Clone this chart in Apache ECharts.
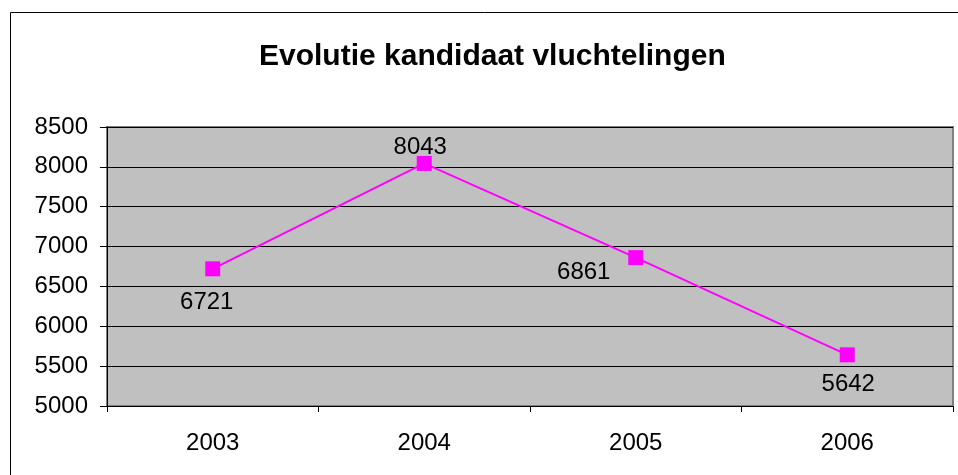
<!DOCTYPE html>
<html>
<head>
<meta charset="utf-8">
<script src="https://cdn.jsdelivr.net/npm/echarts@6/dist/echarts.min.js"></script>
<style>
  html, body { margin: 0; padding: 0; background: #fff; }
  #main { width: 958px; height: 475px; }
</style>
</head>
<body>
<div id="main"></div>
<script>
// data
const years = ['2003', '2004', '2005', '2006'];
const kandidaten = [6721, 8043, 6861, 5642];
const yTicks = [5000, 5500, 6000, 6500, 7000, 7500, 8000, 8500];

// label offsets per punt (zoals in het origineel)
const labelShift = [[-6, 34], [-4, -16], [-52, 15], [1, 30]];

const chart = echarts.init(document.getElementById('main'));

const option = {
  backgroundColor: '#fff',
  animation: false,
  title: {
    text: 'Evolutie kandidaat vluchtelingen',
    left: 254,
    top: 37,
    textStyle: {
      fontFamily: 'Liberation Sans, Arial',
      fontSize: 30,
      fontWeight: 'bold',
      color: '#000'
    }
  },
  graphic: [
    {
      type: 'rect',
      shape: { x: 10.5, y: 12.5, width: 960, height: 480 },
      style: { fill: 'none', stroke: '#000', lineWidth: 1 },
      z: 0
    }
  ],
  grid: {
    left: 107,
    right: 5,
    top: 127,
    bottom: 69,
    show: true,
    backgroundColor: '#c0c0c0',
    borderColor: '#808080',
    borderWidth: 2
  },
  xAxis: {
    type: 'category',
    data: years,
    boundaryGap: true,
    axisLine: { lineStyle: { color: '#000', width: 1 } },
    axisTick: { show: true, inside: false, length: 6, lineStyle: { color: '#000' } },
    axisLabel: {
      fontFamily: 'Liberation Sans, Arial',
      fontSize: 24,
      color: '#000',
      margin: 25
    },
    splitLine: { show: false }
  },
  yAxis: {
    type: 'value',
    min: yTicks[0],
    max: yTicks[yTicks.length - 1],
    interval: 500,
    axisLine: { show: true, lineStyle: { color: '#000', width: 1 } },
    axisTick: { show: true, length: 7, lineStyle: { color: '#000' } },
    axisLabel: {
      fontFamily: 'Liberation Sans, Arial',
      fontSize: 24,
      color: '#000',
      margin: 19,
      formatter: v => String(v)
    },
    splitLine: { show: true, lineStyle: { color: '#000', width: 1 } }
  },
  series: [
    {
      type: 'line',
      data: kandidaten.map((v, i) => ({
        value: v,
        label: { offset: labelShift[i] }
      })),
      symbol: 'rect',
      symbolSize: 15,
      lineStyle: { color: '#ff00ff', width: 2 },
      itemStyle: { color: '#ff00ff' },
      label: {
        show: true,
        position: 'inside',
        fontFamily: 'Liberation Sans, Arial',
        fontSize: 24,
        color: '#000'
      }
    }
  ]
};

chart.setOption(option);
</script>
</body>
</html>
